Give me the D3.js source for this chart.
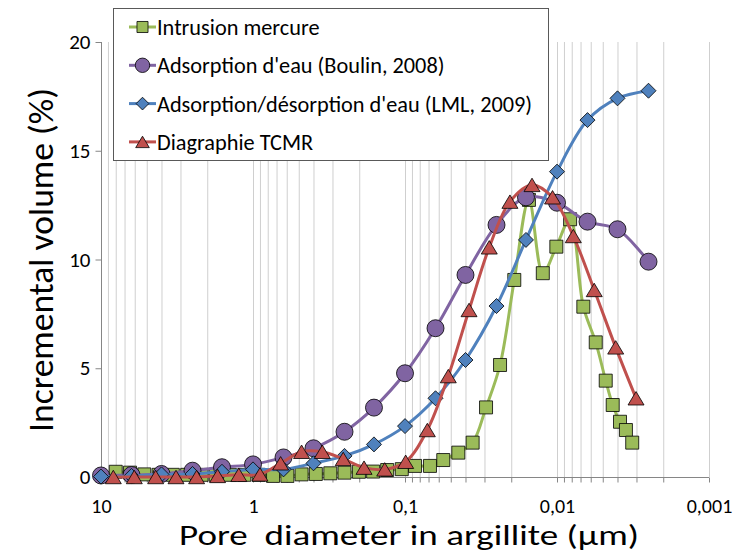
<!DOCTYPE html>
<html><head><meta charset="utf-8">
<script src="https://cdn.jsdelivr.net/npm/d3@7"></script>
<style>
body{margin:0;background:#fff;}
svg{display:block;}
text{font-family:Carlito,Calibri,Lato,"Open Sans",sans-serif;fill:#000;}
</style></head>
<body><svg id="chart" width="750" height="553"></svg>
<script>
// ---- data ----
const seriesNames = ["Intrusion mercure","Adsorption d'eau (Boulin, 2008)","Adsorption/désorption d'eau (LML, 2009)","Diagraphie TCMR"];
const mercureDiam = [8.0,6.44,5.19,4.18,3.37,2.71,2.18,1.76,1.42,1.14,0.917,0.738,0.594,0.479,0.386,0.310,0.250,0.201,0.162,0.131,0.105,0.0859,0.0685,0.0560,0.0446,0.0359,0.0293,0.0237,0.0191,0.0153,0.0124,0.0101,0.0082,0.00671,0.00556,0.00478,0.00430,0.00385,0.00352,0.00320];
const mercureVal  = [0.24,0.2,0.12,0.1,0.1,0.1,0.1,0.1,0.1,0.1,0.1,0.05,0.05,0.12,0.14,0.17,0.2,0.24,0.25,0.32,0.36,0.51,0.51,0.78,1.12,1.58,3.2,5.15,9.06,12.74,9.37,10.59,11.85,7.83,6.19,4.43,3.31,2.54,2.16,1.58];
const boulinDiam = [10,6.3,4,2.5,1.6,1,0.63,0.4,0.25,0.16,0.1,0.063,0.04,0.025,0.016,0.01,0.0063,0.004,0.0025];
const boulinVal  = [0.07,0.09,0.14,0.29,0.45,0.58,0.9,1.32,2.08,3.19,4.77,6.84,9.29,11.59,12.86,12.61,11.74,11.39,9.9];
const lmlDiam = [10,6.3,4,2.5,1.6,1,0.63,0.4,0.25,0.16,0.1,0.063,0.04,0.025,0.016,0.01,0.0063,0.004,0.0025];
const lmlVal  = [0.02,0.05,0.12,0.14,0.24,0.35,0.35,0.63,0.97,1.5,2.34,3.62,5.38,7.86,10.9,14.04,16.41,17.41,17.76];
const tcmrDiam = [8.30,6.04,4.37,3.21,2.35,1.71,1.24,0.90,0.658,0.479,0.350,0.255,0.186,0.136,0.099,0.0713,0.0519,0.0379,0.0279,0.0204,0.0146,0.0107,0.00781,0.00569,0.00411,0.00302];
const tcmrVal  = [0,0,0,0,0,0.05,0.1,0.12,0.63,1.16,1.16,0.83,0.43,0.35,0.70,2.16,4.64,7.68,10.56,12.66,13.43,12.86,11.08,8.60,5.96,3.62];
const xMajorTicks = [10,1,0.1,0.01,0.001];
const xTickLabels = ["10","1","0,1","0,01","0,001"];
const yTicks = [0,5,10,15,20];
const xTitle = "Pore\u00a0 diameter in argillite (\u00b5m)";
const yTitle = "Incremental volume (%)";

// ---- layout ----
const svg = d3.select("#chart");
const L = 101, R = 709, T = 42, B = 477;
const x = d3.scaleLog().domain([10, 0.001]).range([L, R]);
const y = d3.scaleLinear().domain([0, 20]).range([B, T]);

const gv = [];
for (let k = 0; k >= -3; k--) for (let m = 1; m <= 9; m++) gv.push(+(m * Math.pow(10, k)).toPrecision(3));
gv.push(10);

// gridlines
const grid = svg.append("g").attr("transform", `translate(0,${B})`)
  .call(d3.axisBottom(x).tickValues(gv).tickSize(-(B - T)).tickFormat(""));
grid.select(".domain").remove();
grid.selectAll("text").remove();
grid.selectAll("line").attr("stroke", "#cfcfcf").attr("stroke-width", 1);

// x axis
const labelOf = v => { const i = xMajorTicks.findIndex(t => Math.abs(Math.log10(t) - Math.log10(v)) < 1e-6); return i >= 0 ? xTickLabels[i] : ""; };
const xa = svg.append("g").attr("transform", `translate(0,${B + 0.5})`)
  .call(d3.axisBottom(x).tickValues(gv).tickSize(5).tickPadding(16).tickFormat(labelOf));
xa.select(".domain").attr("stroke", "#868686").attr("d", `M${L},0H${R}`);
xa.selectAll("line").attr("stroke", "#868686");
xa.selectAll("text").filter(function(){ return this.textContent === ""; }).remove();
xa.selectAll("text").attr("font-size", 20).attr("font-family", "Carlito,Calibri,Lato,sans-serif");

// y axis
const ya = svg.append("g").attr("transform", `translate(${L + 0.5},0)`)
  .call(d3.axisLeft(y).tickValues(yTicks).tickSize(6).tickPadding(5));
ya.select(".domain").attr("stroke", "#868686").attr("d", `M0,${T}V${B}`);
ya.selectAll("line").attr("stroke", "#868686");
ya.selectAll("text").attr("font-size", 21).attr("font-family", "Carlito,Calibri,Lato,sans-serif");

// titles
svg.append("text").attr("x", 409).attr("y", 545).attr("text-anchor", "middle")
  .attr("font-size", 29).attr("textLength", 460).attr("lengthAdjust", "spacingAndGlyphs").text(xTitle);
svg.append("text").attr("transform", "translate(53,260) rotate(-90)").attr("text-anchor", "middle")
  .attr("font-size", 35).attr("textLength", 344).attr("lengthAdjust", "spacingAndGlyphs").text(yTitle);

// shapes
const shape = {
  square: s => `M${-s/2},${-s/2}h${s}v${s}h${-s}Z`,
  circle: s => `M${s/2},0A${s/2},${s/2} 0 1,1 ${-s/2},0A${s/2},${s/2} 0 1,1 ${s/2},0Z`,
  diamond: s => `M0,${-s/2}L${s/2},0L0,${s/2}L${-s/2},0Z`,
  triangle: s => `M0,${-s*0.42}L${s/2},${s*0.42}L${-s/2},${s*0.42}Z`
};
const series = [
  {name: seriesNames[0], d: mercureDiam, v: mercureVal, color: "#9bbb59", shape: "square", size: 13},
  {name: seriesNames[1], d: boulinDiam, v: boulinVal, color: "#8064a2", shape: "circle", size: 17},
  {name: seriesNames[2], d: lmlDiam, v: lmlVal, color: "#4f81bd", shape: "diamond", size: 15},
  {name: seriesNames[3], d: tcmrDiam, v: tcmrVal, color: "#c0504d", shape: "triangle", size: 16}
];
const line = d3.line().x(p => x(p[0])).y(p => y(p[1])).curve(d3.curveCatmullRom.alpha(0.5));
series.forEach(s => {
  const pts = s.d.map((d, i) => [d, s.v[i]]);
  const g = svg.append("g");
  g.append("path").attr("d", line(pts)).attr("fill", "none").attr("stroke", s.color).attr("stroke-width", 3);
  g.selectAll("path.m").data(pts).join("path").attr("class", "m")
    .attr("transform", p => `translate(${x(p[0])},${y(p[1])})`)
    .attr("d", shape[s.shape](s.size)).attr("fill", s.color).attr("stroke", "#000").attr("stroke-width", 0.8);
});

// legend
const lg = svg.append("g");
lg.append("rect").attr("x", 113.5).attr("y", 8.5).attr("width", 435).attr("height", 152)
  .attr("fill", "#fff").attr("stroke", "#595959").attr("stroke-width", 1);
series.forEach((s, i) => {
  const cy = 27 + i * 38.3;
  lg.append("line").attr("x1", 129).attr("x2", 156).attr("y1", cy).attr("y2", cy).attr("stroke", s.color).attr("stroke-width", 3);
  lg.append("path").attr("transform", `translate(142.5,${cy})`).attr("d", shape[s.shape](s.size * 0.85))
    .attr("fill", s.color).attr("stroke", "#000").attr("stroke-width", 0.8);
  lg.append("text").attr("x", 157).attr("y", cy + 8).attr("font-size", 22.3).text(s.name);
});
</script></body></html>
